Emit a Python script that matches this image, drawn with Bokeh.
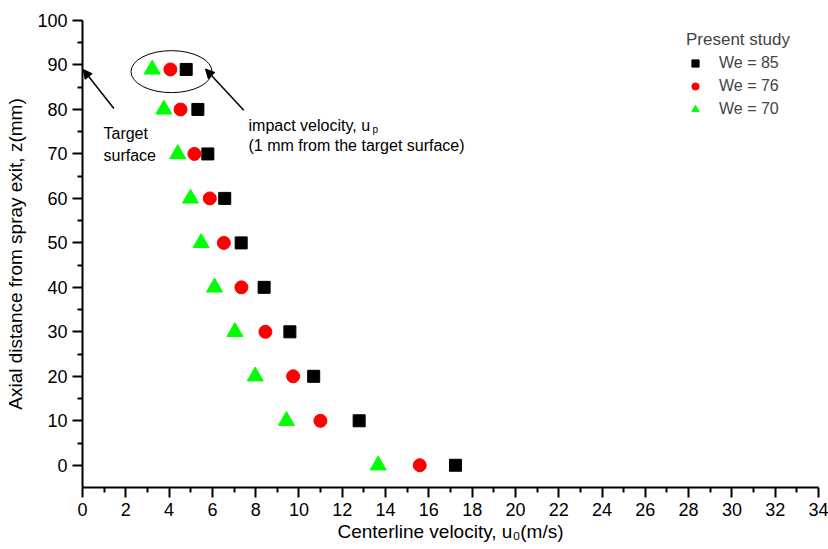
from bokeh.plotting import figure
from bokeh.models import (Range1d, FixedTicker, Legend, LegendItem, Arrow,
                          NormalHead, Label)
from bokeh.embed import file_html
from bokeh.resources import INLINE

# Axial stations (mm from spray exit); top station is 1 mm from the target surface
z_mm = [89, 80, 70, 60, 50, 40, 30, 20, 10, 0]

# Centerline velocity (m/s) for each Weber number
u_we85 = [4.79, 5.33, 5.79, 6.57, 7.33, 8.39, 9.58, 10.68, 12.78, 17.23]
u_we76 = [4.06, 4.53, 5.17, 5.88, 6.53, 7.34, 8.45, 9.73, 10.99, 15.58]
u_we70 = [3.22, 3.76, 4.40, 4.99, 5.48, 6.10, 7.04, 7.98, 9.42, 13.66]

series_labels = ["We = 85", "We = 76", "We = 70"]
x_ticks = list(range(0, 35, 2))
y_ticks = list(range(0, 101, 10))

FONT = "Liberation Sans"

p = figure(width=828, height=549, output_backend="svg", toolbar_location=None,
           x_range=Range1d(0, 34), y_range=Range1d(-5, 100),
           min_border_left=82, min_border_right=10, min_border_top=20,
           min_border_bottom=62)
p.outline_line_color = None
p.xgrid.visible = False
p.ygrid.visible = False
p.background_fill_color = "white"

for ax, ticks, minors in ((p.xaxis[0], x_ticks, list(range(1, 35, 2))),
                          (p.yaxis[0], y_ticks, list(range(5, 100, 10)))):
    ax.ticker = FixedTicker(ticks=ticks, minor_ticks=minors)
    ax.axis_line_width = 2
    ax.major_tick_line_width = 2
    ax.minor_tick_line_width = 2
    ax.major_tick_out = 10
    ax.major_tick_in = 0
    ax.minor_tick_out = 5
    ax.minor_tick_in = 0
    ax.major_label_text_font = FONT
    ax.major_label_text_font_size = "18px"
    ax.major_label_text_color = "black"
    ax.axis_label_text_font = FONT
    ax.axis_label_text_font_size = "19px"
    ax.axis_label_text_font_style = "normal"
    ax.axis_label_text_color = "black"

p.xaxis.axis_label = "Centerline velocity, u\u2080(m/s)"
p.yaxis.axis_label = "Axial distance from spray exit, z(mm)"
p.xaxis.major_label_standoff = 5
p.yaxis.major_label_standoff = 5
p.xaxis.axis_label_standoff = 2
p.yaxis.axis_label_standoff = 8

r85 = p.scatter(u_we85, z_mm, marker="square", size=12, fill_color="black",
                line_color="black")
r76 = p.scatter(u_we76, z_mm, marker="circle", size=13, fill_color="#ff0000",
                line_color="#ff0000")
r70 = p.scatter(u_we70, z_mm, marker="triangle", size=16, fill_color="#00ff00",
                line_color="#00ff00")

legend = Legend(items=[LegendItem(label=series_labels[0], renderers=[r85]),
                       LegendItem(label=series_labels[1], renderers=[r76]),
                       LegendItem(label=series_labels[2], renderers=[r70])],
                location=(604, 368), title="Present study",
                title_text_font=FONT, title_text_font_size="17px",
                title_text_font_style="normal", title_standoff=3,
                label_text_font=FONT, label_text_font_size="16px",
                glyph_width=18, glyph_height=20, label_height=20,
                label_standoff=15, spacing=3, padding=0, margin=0,
                border_line_color=None, background_fill_alpha=0)
p.add_layout(legend)

# Ellipse around the impact-velocity station
p.ellipse(x=[4.11], y=[88.5], width=[81], height=[42], width_units="screen",
          height_units="screen", fill_color=None, line_color="black",
          line_width=1)

head = dict(size=9, fill_color="black", line_color="black")
p.add_layout(Arrow(end=NormalHead(**head), x_start=1.45, y_start=80.2,
                   x_end=0.03, y_end=89.0, line_width=1.5))
p.add_layout(Arrow(end=NormalHead(**head), x_start=7.45, y_start=79.8,
                   x_end=5.68, y_end=89.1, line_width=1.5))

text_style = dict(text_font=FONT, text_font_size="16px", text_color="black",
                  text_baseline="alphabetic")
p.add_layout(Label(x=0.97, y=74.5, text="Target", **text_style))
p.add_layout(Label(x=0.97, y=69.7, text="surface", **text_style))
p.add_layout(Label(x=7.67, y=76.4, text="impact velocity, u", **text_style))
p.add_layout(Label(x=13.4, y=75.6, text="p", text_font=FONT,
                   text_font_size="10px", text_color="black",
                   text_baseline="alphabetic"))
p.add_layout(Label(x=7.67, y=72.0, text="(1 mm from the target surface)",
                   **text_style))

open("out.html", "w").write(file_html(p, INLINE))
